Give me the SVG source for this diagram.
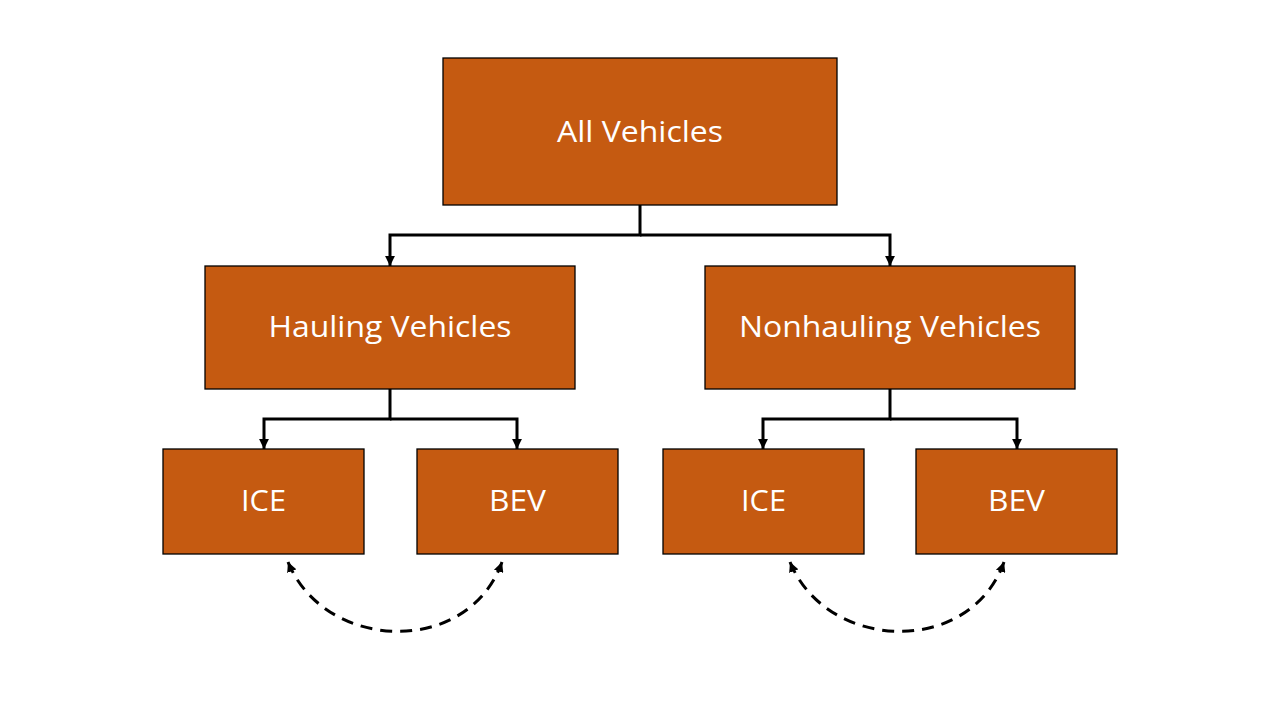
<svg xmlns="http://www.w3.org/2000/svg" width="1280" height="720" viewBox="0 0 1280 720">
<style>
.box{fill:#C55A11;stroke:#000;stroke-width:1.3}
.lbl{fill:#fff;font-family:"Open Sans","Noto Sans",sans-serif;font-size:30px;text-anchor:middle}
.conn{fill:none;stroke:#000;stroke-width:3}
.dash{fill:none;stroke:#000;stroke-width:3;stroke-dasharray:12 8}
</style>
<defs>
<marker id="arr" viewBox="0 0 10 10" refX="10" refY="5" markerWidth="3.3" markerHeight="3.3" orient="auto-start-reverse" markerUnits="strokeWidth">
<path d="M0,0 L10,5 L0,10 z" fill="#000"/>
</marker>
</defs>
<rect width="1280" height="720" fill="#fff"/>
<g id="connectors">
<path class="conn" d="M640,205 V235 H390 V266" marker-end="url(#arr)"/>
<path class="conn" d="M640,235 H890 V266" marker-end="url(#arr)"/>
<path class="conn" d="M390,389 V419 H264 V449" marker-end="url(#arr)"/>
<path class="conn" d="M390,419 H517 V449" marker-end="url(#arr)"/>
<path class="conn" d="M890,389 V419 H763 V449" marker-end="url(#arr)"/>
<path class="conn" d="M890,419 H1017 V449" marker-end="url(#arr)"/>
<path class="dash" d="M288,562 C325,652 468,657 502,562" marker-start="url(#arr)" marker-end="url(#arr)"/>
<path class="dash" d="M790,562 C827,652 970,657 1004,562" marker-start="url(#arr)" marker-end="url(#arr)"/>
</g>
<g id="all"><rect class="box" x="443" y="58" width="394" height="147"/><text class="lbl" x="640" y="142" textLength="166" lengthAdjust="spacingAndGlyphs">All Vehicles</text></g>
<g id="hauling"><rect class="box" x="205" y="266" width="370" height="123"/><text class="lbl" x="390" y="337" textLength="243" lengthAdjust="spacingAndGlyphs">Hauling Vehicles</text></g>
<g id="nonhauling"><rect class="box" x="705" y="266" width="370" height="123"/><text class="lbl" x="890" y="337" textLength="302" lengthAdjust="spacingAndGlyphs">Nonhauling Vehicles</text></g>
<g id="ice1"><rect class="box" x="163" y="449" width="201" height="105"/><text class="lbl" x="263.5" y="511" textLength="45" lengthAdjust="spacingAndGlyphs">ICE</text></g>
<g id="bev1"><rect class="box" x="417" y="449" width="201" height="105"/><text class="lbl" x="517.5" y="511" textLength="57" lengthAdjust="spacingAndGlyphs">BEV</text></g>
<g id="ice2"><rect class="box" x="663" y="449" width="201" height="105"/><text class="lbl" x="763.5" y="511" textLength="45" lengthAdjust="spacingAndGlyphs">ICE</text></g>
<g id="bev2"><rect class="box" x="916" y="449" width="201" height="105"/><text class="lbl" x="1016.5" y="511" textLength="57" lengthAdjust="spacingAndGlyphs">BEV</text></g>
</svg>
